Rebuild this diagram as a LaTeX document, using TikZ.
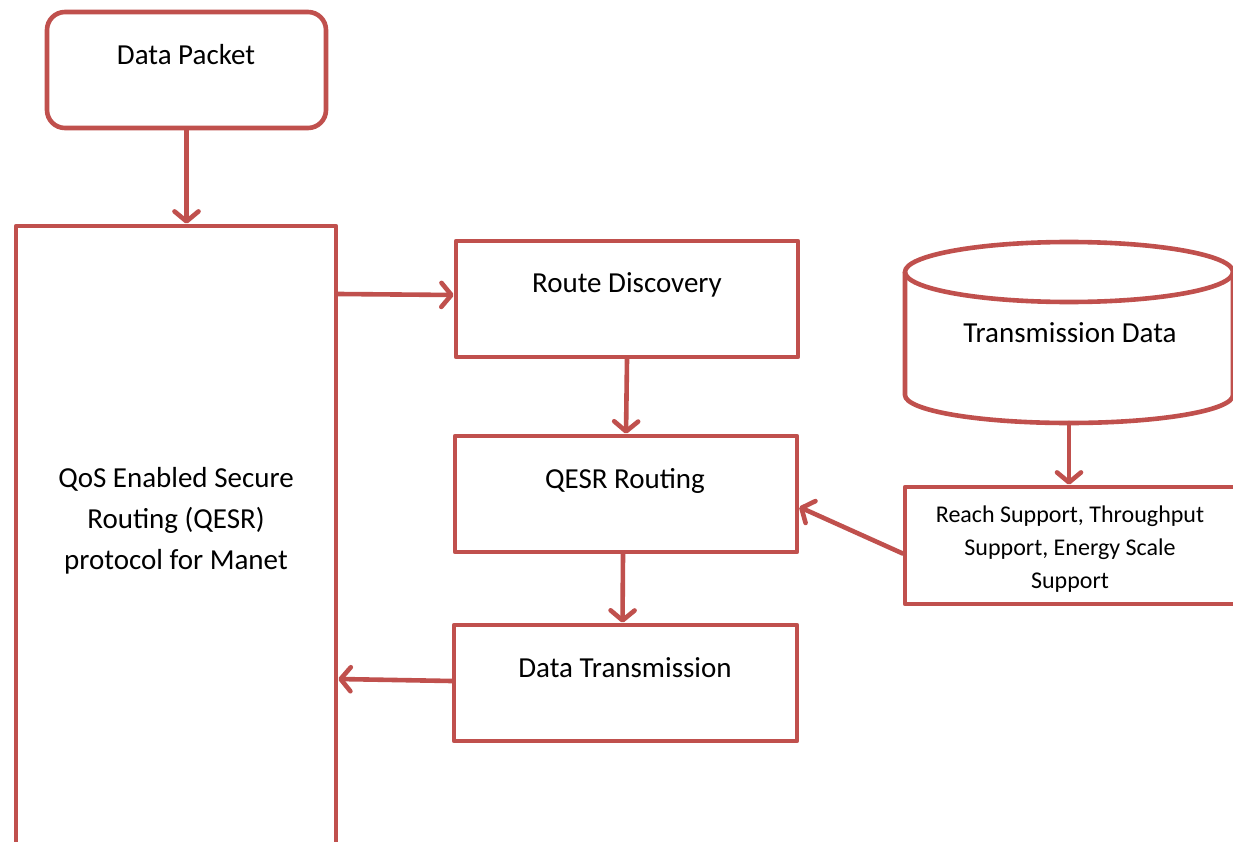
\documentclass[tikz,border=0pt]{standalone}
\usepackage{fontspec}
\setmainfont{Carlito}
\usetikzlibrary{arrows.meta,calc}
\definecolor{accred}{HTML}{C0504D}
\begin{document}
\begin{tikzpicture}[x=1pt,y=-1pt,
  box/.style={draw=accred,line width=4.6pt,line join=round,minimum width=#1,inner sep=0pt},
  txt/.style={font=\fontsize{29}{41}\selectfont,align=center,text=black,inner sep=0pt},
  smalltxt/.style={font=\fontsize{24}{33}\selectfont,align=center,text=black,inner sep=0pt},
  conn/.style={draw=accred,line width=4.6pt,line cap=round,
    -{Straight Barb[length=10pt,width=24pt,line cap=round,line join=round]}}]
\useasboundingbox (0,0) rectangle (1233,842);
\fill[white] (0,0) rectangle (1233,842);
\clip (0,0) rectangle (1233,842);
% boxes
\node[box=279pt,minimum height=116pt,rounded corners=18pt] (dp) at (186.5,70) {};
\node[box=320pt,minimum height=700pt] (qos) at (176,576) {};
\node[box=342pt,minimum height=116pt] (rd) at (627,299) {};
\node[box=342pt,minimum height=116pt] (qr) at (626,494) {};
\node[box=343pt,minimum height=116pt] (dt) at (625.5,683) {};
\node[box=331pt,minimum height=117pt] (rs) at (1070.5,545.5) {};
% cylinder
\draw[accred,line width=4.6pt] (1069,272) ellipse [x radius=164pt,y radius=30pt];
\draw[accred,line width=4.6pt] (905,272) -- (905,395)
  arc[start angle=180,end angle=360,x radius=164pt,y radius=28pt] -- (1233,272);
\coordinate (cylB) at (1069,423);
% texts
\node[txt] (dpT) at (186,55) {Data Packet};
\node[txt] (qosT) at (176,521) {QoS Enabled Secure\\Routing (QESR)\\protocol for Manet};
\node[txt] (rdT) at (627,285) {Route Discovery};
\node[txt] (qrT) at (625,481) {QESR Routing};
\node[txt] (dtT) at (625,668) {Data Transmission};
\node[txt] (cylT) at (1070,333) {Transmission Data};
\node[smalltxt] (rsT) at (1070,549) {Reach Support, Throughput\\Support, Energy Scale\\Support};
% connectors
\draw[conn] (dp.south) -- (dp.south |- qos.north);
\draw[conn] ($(rd.west -| qos.east)+(0,-5)$) -- ($(rd.west)+(0,-4)$);
\draw[conn] (rd.south) -- (qr.north);
\draw[conn] ($(qr.south)+(-3,0)$) -- ($(dt.north)+(-3,0)$);
\draw[conn] ($(dt.west)+(0,-2)$) -- ($(dt.west -| qos.east)+(0,-4)$);
\draw[conn] (cylB) -- (rs.north -| cylB);
\draw[conn] ($(rs.west)+(0,8)$) -- ($(qr.east)+(0,13)$);
\end{tikzpicture}
\end{document}
